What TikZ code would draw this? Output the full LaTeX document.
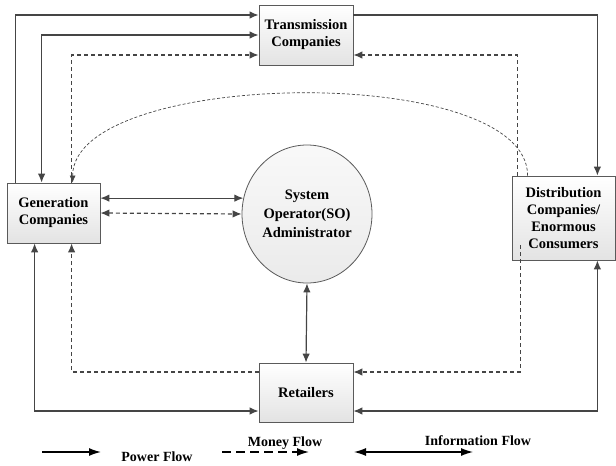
\documentclass[tikz,border=0pt]{standalone}
\usepackage{fontspec}
\setmainfont{Liberation Serif}
\usepackage{tikz}
\usetikzlibrary{positioning,arrows.meta,shapes.geometric,shadows}
\definecolor{linegray}{HTML}{454545}
\definecolor{boxedge}{HTML}{5A5A5A}

\begin{document}
\begin{tikzpicture}[
    x=1pt, y=-1pt,
    >={Latex[length=9pt,width=7.5pt]},
    box/.style={rectangle, draw=boxedge, line width=0.8pt, top color=white, bottom color=gray!22, align=center, inner sep=0pt, font=\fontsize{14.5}{17}\selectfont\bfseries, drop shadow={shadow xshift=1.2pt, shadow yshift=-1.2pt, fill=gray!40, opacity=0.6}},
    sysop/.style={ellipse, draw=boxedge, line width=0.8pt, top color=gray!5, bottom color=gray!16, align=center, inner sep=0pt, minimum width=130pt, minimum height=138pt, font=\fontsize{14.5}{19}\selectfont\bfseries},
    flow/.style={draw=linegray, line width=1.2pt},
    money/.style={flow, dash pattern=on 4pt off 3pt},
    thinmoney/.style={draw=linegray, line width=0.7pt, dash pattern=on 3pt off 2pt, >={Latex[length=7pt,width=6pt]}},
    legendarrow/.style={draw=black, line width=1.4pt, >={Latex[length=12pt,width=8pt]}},
    legendtext/.style={font=\fontsize{14}{16}\selectfont\bfseries, inner sep=1pt}
  ]
  \useasboundingbox (0,0) rectangle (616,466);

  % Market participants
  \node[box, minimum width=94pt, minimum height=60pt] (trans) at (306,35) {Transmission\\Companies};
  \node[box, minimum width=93pt, minimum height=60pt] (gen) at (53.5,213) {Generation\\Companies};
  \node[box, minimum width=103pt, minimum height=84pt] (dist) at (563.5,218) {Distribution\\Companies/\\Enormous\\Consumers};
  \node[box, minimum width=94pt, minimum height=59pt] (ret) at (306,392.5) {Retailers};
  \node[sysop] (so) at (307,214) {System\\Operator(SO)\\Administrator};

  % Power flow
  \draw[flow,->] ([xshift=9pt]gen.north west) |- ([yshift=20pt]trans.west);
  \draw[flow,->] ([yshift=20pt]trans.east) -| ([xshift=-18pt]dist.north east);
  \draw[flow,<->] ([xshift=35pt]gen.north west) |- (trans.west);
  \draw[flow,<->] ([xshift=28pt]gen.south west) |- ([yshift=-18.5pt]ret.west);
  \draw[flow,<->] ([xshift=-18pt]dist.south east) |- ([yshift=-18.5pt]ret.east);

  % Information flow
  \draw[flow,<->] (gen.east |- so.166) -- (so.166);
  \draw[flow,<->] (so.south) -- (ret.north);

  % Money flow
  \draw[money,->] ([xshift=65pt]gen.north west) |- ([yshift=-20pt]trans.west);
  \draw[money,->] ([xshift=6pt]dist.north west) |- ([yshift=-20pt]trans.east);
  \draw[money,->] ([xshift=9pt,yshift=15pt]dist.south west) |- ([yshift=20.5pt]ret.east);
  \draw[money,->] ([yshift=20.5pt]ret.west) -| ([xshift=65pt]gen.south west);
  \draw[money,<->] (gen.east) -- (so.west);
  \draw[thinmoney,->] ([xshift=16pt]dist.north west) to[out=90,in=90,looseness=0.64] ([xshift=66pt]gen.north west);

  % Legend
  \coordinate (pw1) at (42,452);
  \coordinate (pw2) at (101,452);
  \coordinate (mn1) at (222,452);
  \coordinate (mn2) at (309,452);
  \coordinate (in1) at (354,452);
  \coordinate (in2) at (473,452);
  \draw[legendarrow,->] (pw1) -- (pw2);
  \draw[legendarrow,->,dash pattern=on 9pt off 5pt] (mn1) -- (mn2);
  \draw[legendarrow,<->,line width=1.2pt] (in1) -- (in2);
  \node[legendtext] (pwtext) at (157,457) {Power Flow};
  \node[legendtext] (mntext) at (285,443) {Money Flow};
  \node[legendtext] (intext) at (478,441) {Information Flow};
\end{tikzpicture}
\end{document}
